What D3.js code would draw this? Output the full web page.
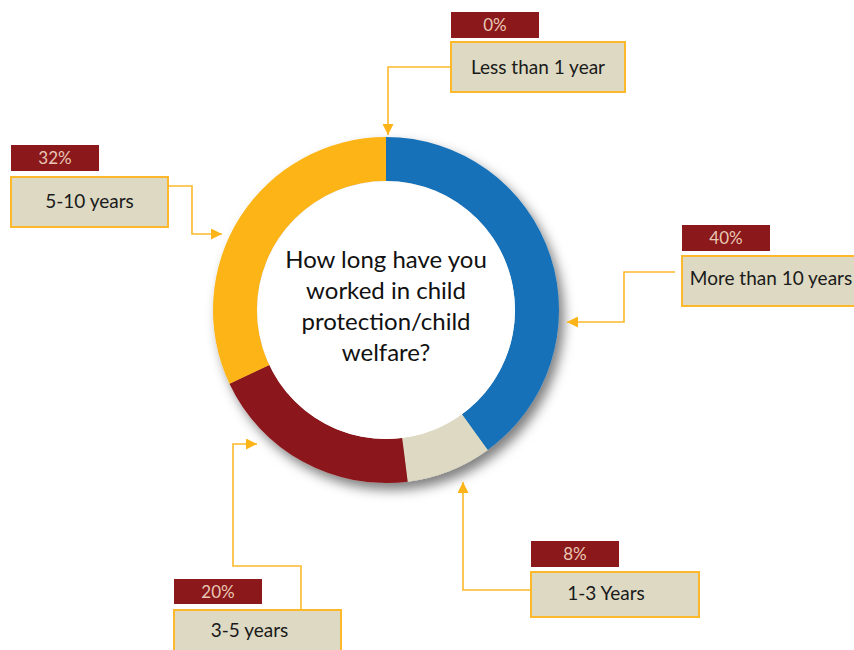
<!DOCTYPE html>
<html>
<head>
<meta charset="utf-8">
<script src="https://cdn.jsdelivr.net/npm/d3@7"></script>
<style>
  html, body { margin: 0; padding: 0; background: #fff; }
  svg { display: block; }
  text { font-family: Lato, "Open Sans", sans-serif; }
</style>
</head>
<body>
<svg id="chart" width="854" height="650"></svg>
<script>
// ---- Data ----
const categories = ["More than 10 years", "1-3 Years", "3-5 years", "5-10 years", "Less than 1 year"];
const values = [40, 8, 20, 32, 0];
const percentLabels = ["40%", "8%", "20%", "32%", "0%"];
const sliceColors = ["#1771B8", "#DDD9C3", "#8B181B", "#FDB419", "#DDD9C3"];
const centerLines = ["How long have you", "worked in child", "protection/child", "welfare?"];

// ---- Layout of callouts (annotation positions) ----
const callouts = [
  { box: [682, 256, 180, 50], pct: [682, 225, 88, 26], textDx: -1, textY: 285, path: [[675, 272], [624, 272], [624, 322], [567, 322]] },
  { box: [531, 572, 168, 45], pct: [531, 541, 88, 26], textDx: -9, textY: 600, path: [[531, 590], [463, 590], [463, 482]] },
  { box: [174, 610, 167, 50], pct: [174, 579, 88, 25], textDx: -8, textY: 637, path: [[301, 610], [301, 566], [233, 566], [233, 444], [257, 444]] },
  { box: [11, 177, 157, 50],  pct: [11, 145, 88, 26],  textDx: 0,  textY: 208, path: [[168, 186], [192, 186], [192, 234], [222, 234]] },
  { box: [451, 42, 174, 50],  pct: [451, 12, 88, 26],  textDx: 0,  textY: 74,  path: [[451, 67], [388, 67], [388, 135]] }
];

const svg = d3.select("#chart");
const cx = 386, cy = 310, rOuter = 173, rInner = 129;

const defs = svg.append("defs");
const f = defs.append("filter").attr("id", "shadow")
  .attr("x", "-20%").attr("y", "-20%").attr("width", "150%").attr("height", "150%");
f.append("feDropShadow").attr("dx", 5).attr("dy", 7).attr("stdDeviation", 6)
  .attr("flood-color", "#000").attr("flood-opacity", 0.5);

const marker = defs.append("marker").attr("id", "arrow")
  .attr("viewBox", "0 0 10 10").attr("refX", 10).attr("refY", 5)
  .attr("markerWidth", 13).attr("markerHeight", 11).attr("orient", "auto")
  .attr("markerUnits", "userSpaceOnUse");
marker.append("path").attr("d", "M0,0 L10,5 L0,10 Z").attr("fill", "#FDB419");

const data = categories.map((c, i) => ({ cat: c, value: values[i], pct: percentLabels[i], color: sliceColors[i], co: callouts[i] }));

const pie = d3.pie().sort(null).value(d => d.value);
const arc = d3.arc().innerRadius(rInner).outerRadius(rOuter);

const g = svg.append("g").attr("transform", `translate(${cx},${cy})`);
const ring = g.append("g").attr("filter", "url(#shadow)");
ring.selectAll("path").data(pie(data).filter(d => d.data.value > 0)).join("path")
  .attr("d", arc).attr("fill", d => d.data.color);
g.append("circle").attr("r", rInner).attr("fill", "#fff");

// center text
g.append("g").selectAll("text").data(centerLines).join("text")
  .attr("x", 0).attr("y", (d, i) => -42 + i * 31)
  .attr("text-anchor", "middle").attr("font-size", 24).attr("fill", "#111")
  .text(d => d);

// callouts
const line = d3.line();
const cg = svg.append("g");
data.forEach(d => {
  const c = d.co;
  cg.append("path").attr("d", line(c.path)).attr("fill", "none")
    .attr("stroke", "#FDB92B").attr("stroke-width", 1.6)
    .attr("marker-end", "url(#arrow)");
  cg.append("rect").attr("x", c.pct[0]).attr("y", c.pct[1]).attr("width", c.pct[2]).attr("height", c.pct[3])
    .attr("fill", "#8B181B");
  cg.append("text").attr("x", c.pct[0] + c.pct[2] / 2).attr("y", c.pct[1] + c.pct[3] / 2 + 6)
    .attr("text-anchor", "middle").attr("font-size", 17).attr("fill", "#E8C8B4").text(d.pct);
  cg.append("rect").attr("x", c.box[0]).attr("y", c.box[1]).attr("width", c.box[2]).attr("height", c.box[3])
    .attr("fill", "#DDD9C3").attr("stroke", "#FDB92B").attr("stroke-width", 2);
  cg.append("text").attr("x", c.box[0] + c.box[2] / 2 + c.textDx)
    .attr("y", c.textY)
    .attr("text-anchor", "middle").attr("font-size", 19).attr("fill", "#1a1a1a").text(d.cat);
});
</script>
</body>
</html>
